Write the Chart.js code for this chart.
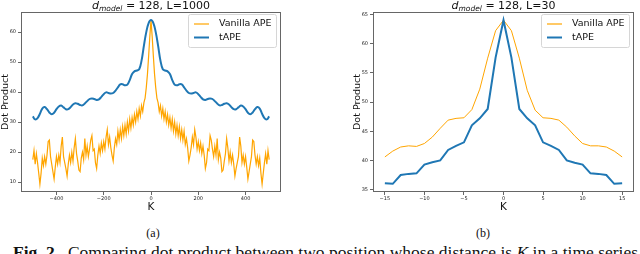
<!DOCTYPE html>
<html>
<head>
  <meta charset="utf-8">
  <title>Dot product vs distance</title>
  <script src="https://cdn.jsdelivr.net/npm/chart.js"></script>
  <style>
    body { margin: 0; width: 640px; height: 254px; overflow: hidden; background: #fff; position: relative; }
    canvas { position: absolute; top: 0; }
    #chartA { left: 0; }
    #chartB { left: 340px; }
    .sub { position: absolute; top: 227px; font: 12px/12px "Liberation Serif", serif; text-align: center; width: 60px; color: #111; }
    #caption { position: absolute; left: 13px; top: 244px; font: 17.5px/17.5px "Liberation Serif", serif; white-space: nowrap; color: #111; }
  </style>
</head>
<body>

<canvas id="chartA" width="300" height="214"></canvas>
<canvas id="chartB" width="300" height="214"></canvas>
<div class="sub" style="left:123px">(a)</div>
<div class="sub" style="left:453px">(b)</div>
<div id="caption"><b>Fig. 2.</b>&nbsp; Comparing dot product between two position whose distance is <i>K</i> in a time series</div>

<script>
  // (a) L=1000 : vanilla sampled every 5, tAPE every 10
  const VANILLA_LONG = [
    17.5, 20.5, 16.0, 19.5, 16.5, 13.0, 9.3, 13.0, 18.0, 15.5,
    18.5, 16.0, 19.0, 23.5, 24.0, 18.5, 16.0, 13.5, 11.0, 15.0,
    18.5, 16.0, 19.0, 16.5, 22.0, 25.0, 18.5, 16.5, 14.5, 12.0,
    16.0, 19.0, 16.5, 20.0, 17.0, 21.5, 24.5, 19.5, 17.0, 14.0,
    13.5, 18.0, 20.0, 17.5, 24.5, 19.0, 22.0, 18.5, 21.0, 24.0,
    25.5, 20.5, 21.0, 16.5, 14.5, 19.0, 22.0, 19.5, 23.0, 20.5,
    23.5, 21.0, 25.0, 27.5, 22.5, 25.0, 21.5, 19.0, 17.0, 21.5,
    24.5, 22.5, 27.0, 24.0, 27.5, 24.5, 28.5, 25.5, 29.0, 26.0,
    30.0, 27.0, 31.0, 28.0, 31.5, 29.0, 32.5, 30.0, 33.5, 31.0,
    34.5, 32.0, 35.5, 33.5, 36.5, 38.0, 41.5, 46.0, 52.0, 58.5,
    64.0,
    58.5, 52.0, 46.0, 41.5, 38.0, 36.5, 33.5, 35.5, 32.0, 34.5,
    31.0, 33.5, 30.0, 32.5, 29.0, 31.5, 28.0, 31.0, 27.0, 30.0,
    26.0, 29.0, 25.5, 28.5, 24.5, 27.5, 24.0, 27.0, 22.5, 24.5,
    21.5, 17.0, 19.0, 21.5, 25.0, 22.5, 27.5, 25.0, 21.0, 23.5,
    20.5, 23.0, 19.5, 22.0, 19.0, 14.5, 16.5, 21.0, 20.5, 25.5,
    24.0, 21.0, 18.5, 22.0, 19.0, 24.5, 17.5, 20.0, 18.0, 13.5,
    14.0, 17.0, 19.5, 24.5, 21.5, 17.0, 20.0, 16.5, 19.0, 16.0,
    12.0, 14.5, 16.5, 18.5, 25.0, 22.0, 16.5, 19.0, 16.0, 18.5,
    15.0, 11.0, 13.5, 16.0, 18.5, 24.0, 23.5, 19.0, 16.0, 18.5,
    15.5, 18.0, 13.0, 9.3, 13.0, 16.5, 19.5, 16.0, 20.5, 17.5
  ];
  const TAPE_LONG = [
    31.9, 30.9, 31.3, 32.8, 34.5, 35.0, 34.3, 33.2, 32.6, 33.1,
    34.3, 35.2, 35.5, 34.9, 34.3, 34.3, 35.0, 35.9, 36.3, 36.1,
    35.7, 35.6, 36.2, 37.0, 37.7, 37.9, 37.7, 37.4, 37.6, 38.4,
    39.3, 39.9, 39.7, 39.5, 39.7, 40.5, 41.6, 42.6, 42.6, 42.3,
    42.5, 44.0, 46.0, 46.9, 47.2, 47.6, 50.5, 55.5, 60.0, 63.0,
    64.0,
    63.0, 60.0, 55.5, 50.5, 47.6, 47.2, 46.9, 46.0, 44.0, 42.5,
    42.3, 42.6, 42.6, 41.6, 40.5, 39.7, 39.5, 39.7, 39.9, 39.3,
    38.4, 37.6, 37.4, 37.7, 37.9, 37.7, 37.0, 36.2, 35.6, 35.7,
    36.1, 36.3, 35.9, 35.0, 34.3, 34.3, 34.9, 35.5, 35.2, 34.3,
    33.1, 32.6, 33.2, 34.3, 35.0, 34.5, 32.8, 31.3, 30.9, 31.9
  ];
  const K_LONG_V = VANILLA_LONG.map((_, i) => -500 + 5 * i);
  const K_LONG_T = TAPE_LONG.map((_, i) => -500 + 10 * i);

  // (b) L=30
  const K_SHORT = [-15, -14, -13, -12, -11, -10, -9, -8, -7, -6, -5, -4, -3, -2, -1, 0,
                   1, 2, 3, 4, 5, 6, 7, 8, 9, 10, 11, 12, 13, 14, 15];
  const VANILLA_SHORT = [40.6, 41.6, 42.3, 42.5, 42.4, 42.9, 44.0, 45.5, 46.9, 47.2, 47.3, 48.7, 52.2, 57.5, 62.2, 64.0,
                         62.2, 57.5, 52.0, 48.6, 47.3, 47.2, 46.9, 45.7, 44.2, 42.9, 42.5, 42.5, 42.3, 41.6, 40.6];
  const TAPE_SHORT = [36.1, 36.0, 37.5, 37.7, 37.8, 39.3, 39.7, 40.0, 41.8, 42.5, 43.1, 46.0, 47.2, 48.8, 57.6, 64.0,
                      57.6, 48.8, 47.2, 46.0, 43.1, 42.5, 41.8, 40.0, 39.6, 39.3, 37.8, 37.7, 37.5, 36.0, 36.1];

  const X_TICKS_LONG = [-400, -200, 0, 200, 400];
  const Y_TICKS_LONG = [10, 20, 30, 40, 50, 60];
  const X_TICKS_SHORT = [-15, -10, -5, 0, 5, 10, 15];
  const Y_TICKS_SHORT = [35, 40, 45, 50, 55, 60, 65];

  const ORANGE = '#ffa500';
  const BLUE = '#1f77b4';
  const SPINE = '#666';
  const FONT = 'DejaVu Sans';

  // box around plot + mathtext style title + matplotlib style legend
  const decor = {
    id: 'decor',
    afterDatasetsDraw(chart, args, opts) {
      const ctx = chart.ctx, a = chart.chartArea;
      ctx.save();
      ctx.strokeStyle = SPINE;
      ctx.lineWidth = 1;
      ctx.strokeRect(Math.round(a.left) + 0.5, Math.round(a.top) + 0.5,
                     Math.round(a.right - a.left) - 1, Math.round(a.bottom - a.top) - 1);

      // title: d_model = 128, L=...
      const rest = ' = 128, L=' + opts.L;
      ctx.fillStyle = '#111';
      ctx.textBaseline = 'alphabetic';
      ctx.font = 'italic 11px ' + FONT;
      const wd = ctx.measureText('d').width;
      ctx.font = 'italic 7.5px ' + FONT;
      const wm = ctx.measureText('model').width;
      ctx.font = '11px ' + FONT;
      const wr = ctx.measureText(rest).width;
      let x = (a.left + a.right) / 2 - (wd + wm + wr) / 2;
      const by = 8.5;
      ctx.font = 'italic 11px ' + FONT;
      ctx.fillText('d', x, by); x += wd;
      ctx.font = 'italic 7.5px ' + FONT;
      ctx.fillText('model', x, by + 2.5); x += wm;
      ctx.font = '11px ' + FONT;
      ctx.fillText(rest, x, by);

      // legend
      const w = 88, h = 33;
      const lx = a.right - 5 - w, ly = a.top + 2;
      ctx.fillStyle = 'rgba(255,255,255,0.85)';
      ctx.strokeStyle = '#d6d6d6';
      ctx.beginPath();
      ctx.roundRect(lx + 0.5, ly + 0.5, w, h, 2);
      ctx.fill();
      ctx.stroke();
      const rows = [['Vanilla APE', ORANGE, 1.2], ['tAPE', BLUE, 2]];
      ctx.font = '9.5px ' + FONT;
      ctx.textBaseline = 'middle';
      rows.forEach((r, i) => {
        const ry = ly + 10 + i * 13.5;
        ctx.strokeStyle = r[1];
        ctx.lineWidth = r[2];
        ctx.beginPath();
        ctx.moveTo(lx + 6, ry);
        ctx.lineTo(lx + 21, ry);
        ctx.stroke();
        ctx.fillStyle = '#111';
        ctx.fillText(r[0], lx + 31, ry);
      });
      ctx.restore();
    }
  };

  function axis(ticks, min, max, title, isX) {
    return {
      type: 'linear',
      min: min,
      max: max,
      afterBuildTicks: s => { s.ticks = ticks.map(v => ({ value: v })); },
      afterFit: s => { if (isX) s.height = 22; else s.width = 21; },
      border: { display: false },
      grid: { drawOnChartArea: false, drawTicks: true, tickLength: 3, tickColor: SPINE },
      ticks: {
        font: { family: FONT, size: 5 },
        color: '#222',
        padding: isX ? 1 : 2,
        maxRotation: 0,
        autoSkip: false,
        callback: v => String(v).replace('-', '\u2212')
      },
      title: {
        display: true,
        text: title,
        font: { family: FONT, size: isX ? 10.5 : 9.5 },
        color: '#111',
        padding: { top: 0, bottom: 0 }
      }
    };
  }

  function makeChart(id, L, vanilla, tape, xr, yr, xt, yt, pad, smooth) {
    new Chart(document.getElementById(id), {
      type: 'line',
      data: {
        datasets: [
          { label: 'Vanilla APE', data: vanilla, borderColor: ORANGE, borderWidth: smooth ? 1.2 : 1, pointRadius: 0, tension: 0, order: 1 },
          { label: 'tAPE', data: tape, borderColor: BLUE, borderWidth: 2, pointRadius: 0, tension: smooth ? 0.4 : 0, order: 0 }
        ]
      },
      options: {
        responsive: false,
        animation: false,
        events: [],
        layout: { padding: pad },
        plugins: { legend: { display: false }, tooltip: { enabled: false }, decor: { L: L } },
        scales: {
          x: axis(xt, xr[0], xr[1], 'K', true),
          y: axis(yt, yr[0], yr[1], 'Dot Product', false)
        }
      },
      plugins: [decor]
    });
  }

  const pts = (xs, ys) => xs.map((x, i) => ({ x: x, y: ys[i] }));

  makeChart('chartA', 1000, pts(K_LONG_V, VANILLA_LONG), pts(K_LONG_T, TAPE_LONG),
            [-550, 550], [6.7, 66.7], X_TICKS_LONG, Y_TICKS_LONG,
            { left: 0, right: 19, top: 12, bottom: 0 }, true);
  makeChart('chartB', 30, pts(K_SHORT, VANILLA_SHORT), pts(K_SHORT, TAPE_SHORT),
            [-16.5, 16.5], [34.6, 65.4], X_TICKS_SHORT, Y_TICKS_SHORT,
            { left: 12, right: 6, top: 12, bottom: 0 }, false);
</script>

</body>
</html>
